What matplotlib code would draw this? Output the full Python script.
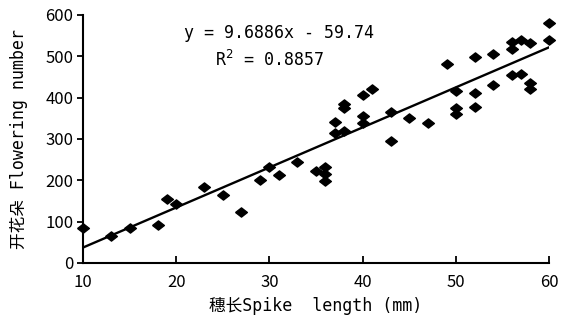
import numpy as np
import matplotlib
matplotlib.use("Agg")
import matplotlib.pyplot as plt

plt.rcParams['font.family'] = ['DejaVu Sans Mono', 'Noto Sans CJK SC']

# spike length (mm) and flowering number
spike = [10, 13, 15, 18, 19, 20, 23, 25, 27, 29, 30, 31, 33, 35, 36, 36, 36,
         37, 37, 38, 38, 38, 40, 41, 40, 40, 43, 43, 45, 47, 49, 50, 50, 50,
         52, 52, 52, 54, 54, 56, 56, 57, 58, 60, 60, 56, 57, 58, 58]
flowers = [85, 65, 85, 92, 155, 143, 184, 164, 123, 200, 232, 213, 244, 223, 232, 215, 199,
           342, 315, 320, 385, 375, 406, 421, 356, 339, 364, 296, 351, 338, 481, 416, 374, 360,
           498, 411, 377, 506, 431, 535, 518, 540, 533, 580, 540, 455, 457, 435, 420]

slope = 9.6886
intercept = -59.74
r2 = 0.8857

fig = plt.figure(figsize=(5.72, 3.23), dpi=100)
ax = fig.add_axes([0.145, 0.186, 0.815, 0.768])

diamond = [(-1, 0), (0, 0.78), (1, 0), (0, -0.78), (-1, 0)]
ax.plot(spike, flowers, linestyle='none', marker=diamond, markersize=8.5,
        color='black', clip_on=False)

xs = np.array([10, 60])
ax.plot(xs, slope * xs + intercept, color='black', linewidth=1.7)

ax.set_xlim(10, 60)
ax.set_ylim(0, 600)
ax.set_xticks([10, 20, 30, 40, 50, 60])
ax.set_yticks([0, 100, 200, 300, 400, 500, 600])
ax.spines['top'].set_visible(False)
ax.spines['right'].set_visible(False)
ax.spines['left'].set_linewidth(1.5)
ax.spines['bottom'].set_linewidth(1.5)
ax.tick_params(axis='x', direction='in', length=5, width=1.3, labelsize=12, pad=8)
ax.tick_params(axis='y', direction='out', length=4, width=1.3, labelsize=12, pad=3)
for lab in ax.get_xticklabels() + ax.get_yticklabels():
    lab.set_family(['Noto Sans CJK SC'])
    lab.set_fontweight('medium')

ax.set_xlabel('穗长Spike  length (mm)', fontsize=12, labelpad=4)
ax.set_ylabel('开花朵 Flowering number', fontsize=12, labelpad=12)

ax.text(0.42, 0.925, 'y = 9.6886x - 59.74', transform=ax.transAxes,
        ha='center', va='center', fontsize=12)
ax.text(0.40, 0.82, 'R$^2$ = 0.8857', transform=ax.transAxes,
        ha='center', va='center', fontsize=12)

fig.savefig('out.png', dpi=100)
